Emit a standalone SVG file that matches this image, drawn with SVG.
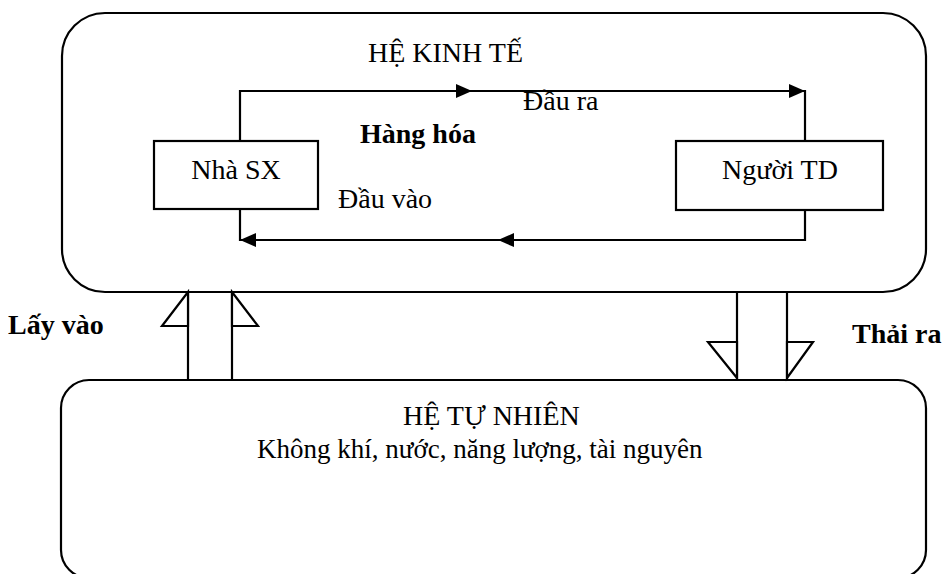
<svg xmlns="http://www.w3.org/2000/svg" width="942" height="574" viewBox="0 0 942 574">
<defs>
<style>
.box{fill:#fff;stroke:#000;stroke-width:2.2}
.ln{fill:none;stroke:#000;stroke-width:2.2}
.tri{fill:#fff;stroke:#000;stroke-width:2.2;stroke-linejoin:miter}
.t{font-family:'Liberation Serif','Times New Roman',Times,'DejaVu Serif',serif;font-size:28px;fill:#000}
.b{font-weight:bold}
</style>
<marker id="ah" viewBox="0 0 16 14" refX="16" refY="7" markerWidth="16" markerHeight="14" markerUnits="userSpaceOnUse" orient="auto">
<path d="M0,0 L16,7 L0,14 Z" fill="#000"/>
</marker>
</defs>
<rect width="942" height="574" fill="#fff"/>
<g id="he-kinh-te">
<rect class="box" x="62" y="13" width="864" height="279" rx="43" ry="43"/>
<text class="t" x="368" y="62">HỆ KINH TẾ</text>
</g>
<g id="he-tu-nhien">
<rect class="box" x="61" y="380" width="865" height="198" rx="28" ry="28"/>
<text class="t" x="403" y="425">HỆ TỰ NHIÊN</text>
<text class="t" x="257" y="458" style="font-size:27px">Không khí, nước, năng lượng, tài nguyên</text>
</g>
<g id="nha-sx">
<rect class="box" x="154" y="141" width="164" height="68"/>
<text class="t" x="236" y="179" text-anchor="middle">Nhà SX</text>
</g>
<g id="nguoi-td">
<rect class="box" x="676" y="141" width="207" height="69"/>
<text class="t" x="780" y="179" text-anchor="middle">Người TD</text>
</g>
<g id="connectors">
<polyline class="ln" points="240,141 240,91 472,91" marker-end="url(#ah)"/>
<polyline class="ln" points="472,91 805,91" marker-end="url(#ah)"/>
<line class="ln" x1="805" y1="90" x2="805" y2="141"/>
<polyline class="ln" points="805,210 805,240 498,240" marker-end="url(#ah)"/>
<polyline class="ln" points="498,240 240,240" marker-end="url(#ah)"/>
<line class="ln" x1="240" y1="209" x2="240" y2="241"/>
<line class="ln" x1="188" y1="380" x2="188" y2="292"/>
<line class="ln" x1="232" y1="380" x2="232" y2="292"/>
<polygon class="tri" points="188,292 162,326 188,326"/>
<polygon class="tri" points="232,292 258,326 232,326"/>
<line class="ln" x1="737" y1="292" x2="737" y2="380"/>
<line class="ln" x1="787" y1="292" x2="787" y2="380"/>
<polygon class="tri" points="737,378 708,342 737,342"/>
<polygon class="tri" points="787,378 813,342 787,342"/>
</g>
<g id="labels">
<text class="t" x="523" y="110">Đầu ra</text>
<text class="t b" x="360" y="143">Hàng hóa</text>
<text class="t" x="338" y="208">Đầu vào</text>
<text class="t b" x="8" y="334">Lấy vào</text>
<text class="t b" x="852" y="343">Thải ra</text>
</g>
</svg>
